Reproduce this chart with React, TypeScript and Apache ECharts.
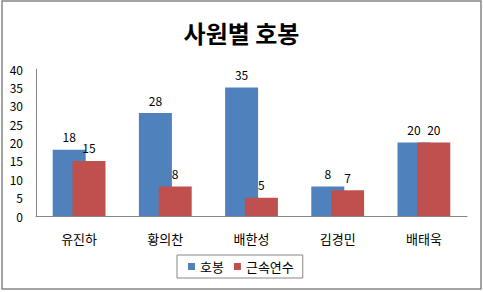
import React, { useEffect, useRef } from "react";
import * as echarts from "echarts";

const categories = ["유진하", "황의찬", "배한성", "김경민", "배태욱"];
const hobong = [18, 28, 35, 8, 20];
const years = [15, 8, 5, 7, 20];
const yTicks = { min: 0, max: 40, interval: 5 };

const FONT = "'Noto Sans CJK KR', 'Noto Sans', sans-serif";

export default function App() {
  const ref = useRef<HTMLDivElement>(null);
  useEffect(() => {
    if (!ref.current) return;
    const chart = echarts.init(ref.current, null, { renderer: "svg" });
    chart.setOption({
      animation: false,
      backgroundColor: "#ffffff",
      textStyle: { fontFamily: FONT },
      title: {
        text: "사원별 호봉",
        left: "center",
        top: 15,
        textStyle: { fontSize: 24, fontWeight: "bold", color: "#000", fontFamily: FONT },
      },
      graphic: [
        {
          type: "rect",
          shape: { x: 2, y: 1, width: 479, height: 288 },
          style: { fill: "none", stroke: "#868686", lineWidth: 1.5 },
          silent: true,
        },
      ],
      legend: {
        left: 177,
        top: 255,
        itemWidth: 7,
        itemHeight: 7,
        itemGap: 10,
        icon: "rect",
        padding: [5, 9, 5, 11],
        borderColor: "#868686",
        borderWidth: 1,
        textStyle: { fontSize: 13, color: "#000", fontFamily: FONT },
        data: ["호봉", "근속연수"],
      },
      grid: { left: 36, right: 16, top: 69, bottom: 76 },
      xAxis: {
        type: "category",
        data: categories,
        axisLine: { lineStyle: { color: "#868686" } },
        axisTick: { show: false },
        axisLabel: { fontSize: 13, color: "#000", margin: 16, fontFamily: FONT },
      },
      yAxis: {
        type: "value",
        min: yTicks.min,
        max: yTicks.max,
        interval: yTicks.interval,
        axisLine: { show: true, lineStyle: { color: "#868686" } },
        axisTick: { show: false },
        splitLine: { show: false },
        axisLabel: { fontSize: 12, color: "#000", margin: 13, fontFamily: FONT },
      },
      series: [
        {
          name: "호봉",
          type: "bar",
          data: hobong,
          barWidth: 33,
          barGap: "-40%",
          itemStyle: { color: "#4F81BD" },
          label: { show: true, position: "top", distance: 7, fontSize: 12, color: "#000", fontFamily: FONT },
        },
        {
          name: "근속연수",
          type: "bar",
          data: years,
          barWidth: 33,
          barGap: "-40%",
          itemStyle: { color: "#C0504D" },
          label: { show: true, position: "top", distance: 7, fontSize: 12, color: "#000", fontFamily: FONT },
        },
      ],
    });
    return () => chart.dispose();
  }, []);
  return (
    <div
      ref={ref}
      style={{ position: "fixed", left: 0, top: 0, width: 483, height: 292 }}
    />
  );
}
